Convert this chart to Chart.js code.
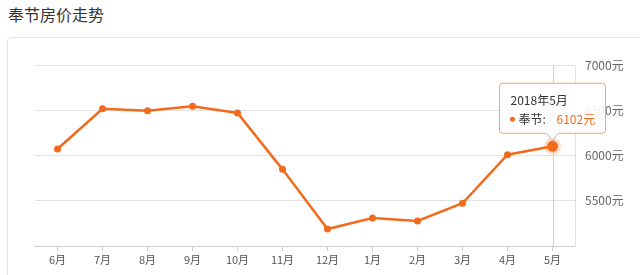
<!DOCTYPE html>
<html>
<head>
<meta charset="utf-8">
<script src="https://cdn.jsdelivr.net/npm/chart.js@4/dist/chart.umd.min.js"></script>
<style>
  html, body { margin: 0; padding: 0; background: #fff; }
  body { width: 640px; height: 275px; position: relative; overflow: hidden;
         font-family: "Noto Sans CJK SC", "Noto Sans", sans-serif; }
  #title { position: absolute; left: 8px; top: 2px; font-size: 16px; color: #333; }
  #card { position: absolute; left: 7px; top: 37px; width: 700px; height: 300px;
          border: 1px solid #e6e6e6; border-radius: 4px; }
  #wrap { position: absolute; left: 0; top: 0; width: 640px; height: 275px; }
</style>
</head>
<body>
<div id="title">奉节房价走势</div>
<div id="card"></div>
<div id="wrap"><canvas id="myChart" width="640" height="275"></canvas></div>
<script>
// --- données ---
const months = ['6月', '7月', '8月', '9月', '10月', '11月', '12月', '1月', '2月', '3月', '4月', '5月'];
const prices = [6072, 6517, 6495, 6544, 6470, 5847, 5188, 5309, 5276, 5472, 6009, 6102];
const yTicks = [5000, 5500, 6000, 6500, 7000];
const seriesName = '奉节';
const tipTitle = '2018年5月';

const ORANGE = '#f26b1d';
const FONT = '"Noto Sans CJK SC", "Noto Sans", sans-serif';

// --- crosshair + tooltip sur le dernier point ---
const tipPlugin = {
    id: 'tipPlugin',
    afterDatasetsDraw(chart) {
        const ctx = chart.ctx;
        const area = chart.chartArea;
        const meta = chart.getDatasetMeta(0);
        const idx = prices.length - 1;
        const pt = meta.data[idx];

        // ligne verticale
        ctx.save();
        ctx.strokeStyle = '#cfcfcf';
        ctx.lineWidth = 1;
        ctx.beginPath();
        ctx.moveTo(Math.round(pt.x) + 0.5, area.top);
        ctx.lineTo(Math.round(pt.x) + 0.5, area.bottom);
        ctx.stroke();

        // point actif avec halo
        ctx.fillStyle = 'rgba(242,107,29,0.22)';
        ctx.beginPath(); ctx.arc(pt.x, pt.y, 8.5, 0, Math.PI * 2); ctx.fill();
        ctx.fillStyle = ORANGE;
        ctx.beginPath(); ctx.arc(pt.x, pt.y, 5.5, 0, Math.PI * 2); ctx.fill();

        // boîte du tooltip
        const w = 106, h = 50;
        const bx = pt.x - 53, by = pt.y - 63;
        const tipX = pt.x, tipY = pt.y - 6;
        ctx.fillStyle = 'rgba(255,255,255,0.9)';
        ctx.strokeStyle = '#f3a46e';
        ctx.lineWidth = 1;
        ctx.beginPath();
        const r = 3;
        ctx.moveTo(bx + r, by);
        ctx.lineTo(bx + w - r, by);
        ctx.quadraticCurveTo(bx + w, by, bx + w, by + r);
        ctx.lineTo(bx + w, by + h - r);
        ctx.quadraticCurveTo(bx + w, by + h, bx + w - r, by + h);
        ctx.lineTo(tipX + 6, by + h);
        ctx.lineTo(tipX, tipY);
        ctx.lineTo(tipX - 6, by + h);
        ctx.lineTo(bx + r, by + h);
        ctx.quadraticCurveTo(bx, by + h, bx, by + h - r);
        ctx.lineTo(bx, by + r);
        ctx.quadraticCurveTo(bx, by, bx + r, by);
        ctx.closePath();
        ctx.fill();
        ctx.stroke();

        ctx.textBaseline = 'middle';
        ctx.font = '12px ' + FONT;
        ctx.fillStyle = '#333';
        ctx.fillText(tipTitle, bx + 11, by + 17);

        ctx.fillStyle = ORANGE;
        ctx.beginPath(); ctx.arc(bx + 13, by + 36, 2.5, 0, Math.PI * 2); ctx.fill();
        ctx.fillStyle = '#333';
        ctx.fillText(seriesName + ':', bx + 19, by + 36);
        ctx.fillStyle = ORANGE;
        ctx.fillText(prices[idx] + '元', bx + 57, by + 36);
        ctx.restore();
    }
};

const ctx = document.getElementById('myChart').getContext('2d');
new Chart(ctx, {
    type: 'line',
    data: {
        labels: months,
        datasets: [{
            label: seriesName,
            data: prices,
            borderColor: ORANGE,
            backgroundColor: ORANGE,
            borderWidth: 2.5,
            pointRadius: 3.5,
            pointBackgroundColor: ORANGE,
            pointBorderWidth: 0,
            tension: 0
        }]
    },
    options: {
        responsive: false,
        animation: false,
        maintainAspectRatio: false,
        layout: { padding: { left: 35, top: 65, right: 0, bottom: 0 } },
        plugins: { legend: { display: false }, tooltip: { enabled: false } },
        scales: {
            x: {
                offset: true,
                grid: { offset: false, drawOnChartArea: false, color: '#ccc', tickLength: 5 },
                border: { color: '#ccc' },
                ticks: { color: '#555', font: { family: FONT, size: 11 }, padding: 2,
                         maxRotation: 0, autoSkip: false },
                afterFit(s) { s.height = 29; }
            },
            y: {
                position: 'right',
                min: 5000, max: 7000,
                afterBuildTicks(s) { s.ticks = yTicks.map(v => ({ value: v })); },
                grid: { color: '#e2e2e2', drawTicks: false },
                border: { color: '#e2e2e2' },
                ticks: {
                    color: '#666', font: { family: FONT, size: 12 }, padding: 10,
                    callback: v => v === 5000 ? '' : v + '元'
                },
                afterFit(s) { s.width = 65; }
            }
        }
    },
    plugins: [tipPlugin]
});
</script>
</body>
</html>
